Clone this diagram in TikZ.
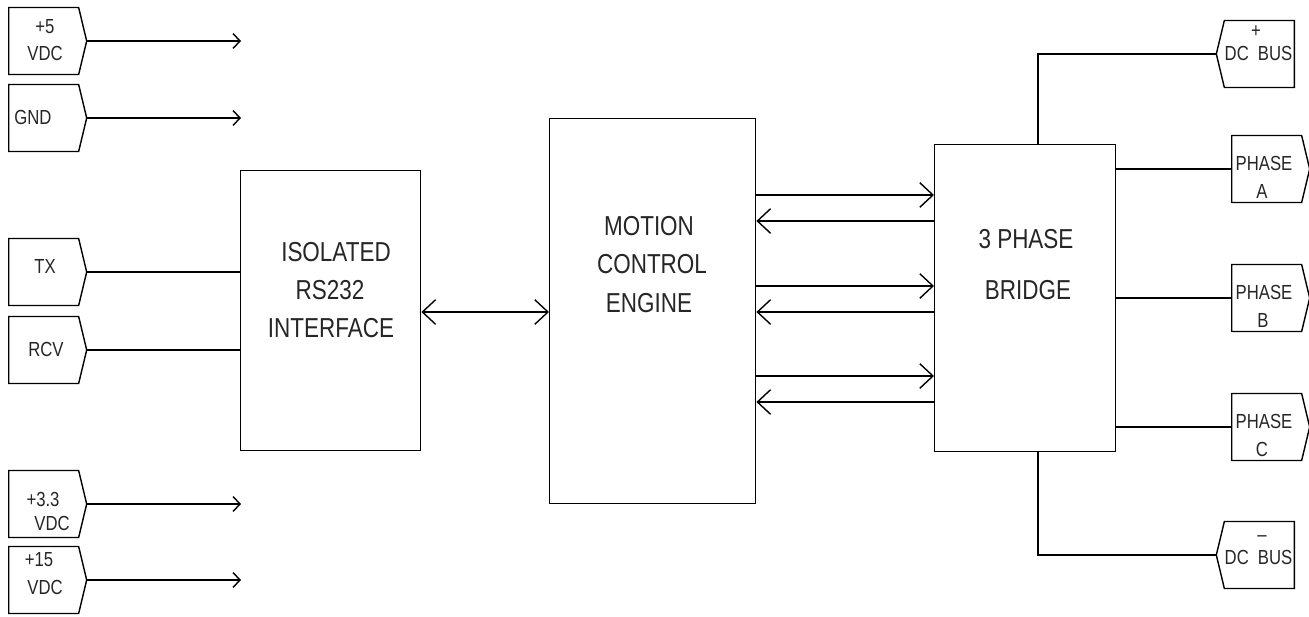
\documentclass[tikz,border=0pt]{standalone}
\usepackage{fontspec}
\setmainfont{Liberation Sans}
\newfontfamily\cadfont[FakeStretch=0.82]{Liberation Sans}
\usetikzlibrary{shapes.symbols,arrows.meta}

\tikzset{
	port/.style={draw, shape=signal, signal to=east, signal pointer angle=153,
		minimum width=1.56cm, minimum height=1.34cm, inner sep=0pt},
	busport/.style={port, signal to=west},
	block/.style={draw, anchor=north west, inner sep=0pt},
	lbl/.style={font=\cadfont\fontsize{11.6}{13}\selectfont, inner sep=0pt, text=black!85},
	big/.style={font=\cadfont\fontsize{15.6}{18}\selectfont, inner sep=0pt, text=black!85},
	sarr/.style={-{Straight Barb[length=4pt,width=8.5pt]}},
	barr/.style={-{Straight Barb[length=7.5pt,width=14pt]}},
	darr/.style={{Straight Barb[length=7.5pt,width=14pt]}-{Straight Barb[length=7.5pt,width=14pt]}},
}

\begin{document}
\begin{tikzpicture}[x=0.02cm, y=-0.02cm, line width=0.8pt]
\useasboundingbox (0,0) rectangle (1309,616);

% input ports
\node[port, anchor=west] (v5) at (8,41) {};
\node[port, anchor=west] (gnd) at (8,118) {};
\node[port, anchor=west] (tx) at (8,272) {};
\node[port, anchor=west] (rcv) at (8,350) {};
\node[port, anchor=west] (v33) at (8,504) {};
\node[port, anchor=west] (v15) at (8,580) {};

\path (45,27) node[lbl] (v5a) {+5};
\path (45,53) node[lbl] (v5b) {VDC};
\path (33,117) node[lbl] (gndt) {GND};
\path (45,266) node[lbl] (txt) {TX};
\path (46,349) node[lbl] (rcvt) {RCV};
\path (43,499) node[lbl] (v33a) {+3.3};
\path (52,523) node[lbl] (v33b) {VDC};
\path (39,560) node[lbl] (v15a) {+15};
\path (45,587) node[lbl] (v15b) {VDC};

\foreach \n in {v5, gnd, v33, v15}
{
	\coordinate (\n end) at (241,0 |- \n.east);
	\draw [sarr] (\n.east) -- (\n end);
}

% blocks
\node[block, minimum width=3.6cm, minimum height=5.6cm] (iso) at (240,170) {};
\node[block, minimum width=4.12cm, minimum height=7.7cm] (mce) at (549,118) {};
\node[block, minimum width=3.62cm, minimum height=6.14cm] (bridge) at (934,144) {};

\path (336,252) node[big] (iso1) {ISOLATED};
\path (330,290) node[big] (iso2) {RS232};
\path (331,328) node[big] (iso3) {INTERFACE};
\path (649,226) node[big] (mce1) {MOTION};
\path (652,264) node[big] (mce2) {CONTROL};
\path (649,303) node[big] (mce3) {ENGINE};
\path (1026,239) node[big] (br1) {3 PHASE};
\path (1028,290) node[big] (br2) {BRIDGE};

\draw (tx.east) -- (tx.east -| iso.west);
\draw (rcv.east) -- (rcv.east -| iso.west);
\draw [darr] (iso.east |- 0,312) -- (mce.west |- 0,312);

\foreach \y/\z in {195/221, 286/312, 376/402}
{
	\draw [barr] (mce.east |- 0,\y) -- (bridge.west |- 0,\y);
	\draw [barr] (bridge.west |- 0,\z) -- (mce.east |- 0,\z);
}

% output ports
\node[busport, anchor=east] (dcp) at (1295,54) {};
\node[port, anchor=west] (pha) at (1231,169) {};
\node[port, anchor=west] (phb) at (1231,298) {};
\node[port, anchor=west] (phc) at (1231,427) {};
\node[busport, anchor=east] (dcm) at (1295,555) {};

\path (1256,32) node[lbl] (dcp0) {+};
\path (1224,53) node[lbl, anchor=west] (dcp1) {DC};
\path (1293,53) node[lbl, anchor=east] (dcp2) {BUS};
\path (1264,163) node[lbl] (pha1) {PHASE};
\path (1262,191) node[lbl] (pha2) {A};
\path (1264,292) node[lbl] (phb1) {PHASE};
\path (1263,320) node[lbl] (phb2) {B};
\path (1264,421) node[lbl] (phc1) {PHASE};
\path (1262,449) node[lbl] (phc2) {C};
\path (1262,539) node[lbl] (dcm0) {\textendash};
\path (1224,557) node[lbl, anchor=west] (dcm1) {DC};
\path (1293,557) node[lbl, anchor=east] (dcm2) {BUS};

\draw (1038,0 |- bridge.north) |- (dcp.west);
\draw (1038,0 |- bridge.south) |- (dcm.west);
\foreach \n in {pha, phb, phc}
	\draw (bridge.east |- \n.west) -- (\n.west);

\end{tikzpicture}
\end{document}
